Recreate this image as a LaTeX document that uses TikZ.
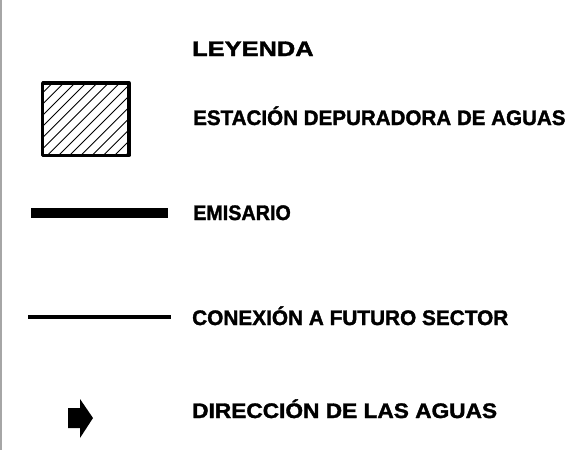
\documentclass[tikz,border=0pt]{standalone}
\usepackage{fontspec}
\setmainfont{Liberation Sans}[BoldFeatures={FakeBold=1.6}]
\usepackage{graphicx}
\tikzset{
  legtext/.style={anchor=base west, inner sep=0pt, font=\fontsize{21}{24}\selectfont\bfseries},
  hatchline/.style={line width=0.9pt},
  frameline/.style={line width=3.3pt},
}
\begin{document}
\begin{tikzpicture}[x=1pt,y=-1pt]
\useasboundingbox (0,0) rectangle (572,450);
% left border line
\draw[gray!70, line width=1.5pt] (0.75,0) -- (0.75,450);
% hatched box
\begin{scope}
\clip (42.7,83) rectangle (129,155.4);
\foreach \k in {-6,...,16} {
  \draw[hatchline] ({42.7+11.2*\k},160) -- ({42.7+11.2*\k+80},80);
}
\end{scope}
\draw[frameline, line join=round] (42.7,83) rectangle (129,155.4);
\node[legtext] (t0) at (192,56) {\scalebox{1.21}[1]{LEYENDA}};
\node[legtext] (t1) at (193,125) {\scalebox{0.98}[1]{ESTACIÓN DEPURADORA DE AGUAS}};
\node[legtext] (t2) at (193,220) {\scalebox{0.94}[1]{EMISARIO}};
\node[legtext] (t3) at (192,325) {\scalebox{0.99}[1]{CONEXIÓN A FUTURO SECTOR}};
\node[legtext] (t4) at (192,418) {\scalebox{1.08}[1]{DIRECCIÓN DE LAS AGUAS}};
% emisario
\coordinate (e1) at (31,213);
\coordinate (e2) at (168,213);
\draw[line width=10pt] (e1) -- (e2);
% conexion
\coordinate (c1) at (28,316.8);
\coordinate (c2) at (171,316.8);
\draw[line width=4.5pt] (c1) -- (c2);
% arrow
\fill (68,408) -- (80,408) -- (80,399) -- (93,418) -- (80,438) -- (80,428) -- (68,428) -- cycle;
\end{tikzpicture}
\end{document}
